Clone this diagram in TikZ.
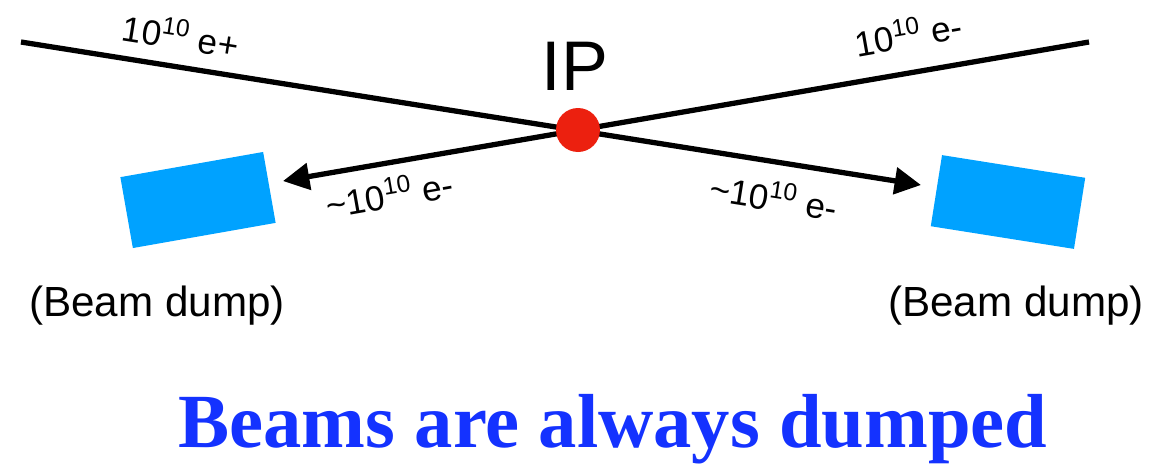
\documentclass[tikz,border=0pt]{standalone}
\usepackage{fontspec}
\setmainfont{Liberation Sans}
\newfontfamily\titlefont{Liberation Serif}
\usetikzlibrary{arrows.meta}
\definecolor{dumpblue}{RGB}{0,162,255}
\definecolor{ipred}{RGB}{236,32,15}
\definecolor{titleblue}{RGB}{20,50,255}
\tikzstyle{beam} = [draw,line width=3pt]
\tikzstyle{spent} = [beam,-{Triangle[length=15pt,width=15pt]}]
\tikzstyle{dump} = [fill=dumpblue,inner sep=0pt,minimum width=2.9cm,minimum height=1.44cm]
\tikzstyle{lbl} = [font=\fontsize{20}{24}\selectfont,inner sep=0pt]

\begin{document}
\begin{tikzpicture}[x=0.02cm,y=-0.02cm]
    \useasboundingbox (0,0) rectangle (1171,464);
    \coordinate (pin) at (21,42);
    \coordinate (pout) at (921,185);
    \coordinate (ein) at (1089,42);
    \coordinate (eout) at (283,181);
    \node[dump, rotate=10] (ldump) at (198,200) {};
    \node[dump, rotate=-9] (rdump) at (1008,202) {};
    \draw[spent] (pin) -- (pout);
    \draw[spent] (ein) -- (eout);
    \node[circle, fill=ipred, minimum size=0.88cm, inner sep=0pt] (ip) at (578,130) {};
    \node[font=\fontsize{40}{48}\selectfont, anchor=base] (iplbl) at (575,90) {IP};
    \node[lbl, rotate=-9] (pinlbl) at (181,35) {10\textsuperscript{10} e+};
    \node[lbl, rotate=10] (einlbl) at (908,33) {10\textsuperscript{10} e-};
    \node[lbl, rotate=10] (eoutlbl) at (389,193) {\textasciitilde10\textsuperscript{10} e-};
    \node[lbl, rotate=-9] (poutlbl) at (774,196) {\textasciitilde10\textsuperscript{10} e-};
    \node[font=\fontsize{24}{29}\selectfont, anchor=base] (ldumplbl) at (157,316) {(Beam dump)};
    \node[font=\fontsize{24}{29}\selectfont, anchor=base] (rdumplbl) at (1016,316) {(Beam dump)};
    \node[font=\titlefont\bfseries\fontsize{43.6}{52}\selectfont, text=titleblue, anchor=base] (title) at (613,447) {Beams are always dumped};
\end{tikzpicture}
\end{document}
